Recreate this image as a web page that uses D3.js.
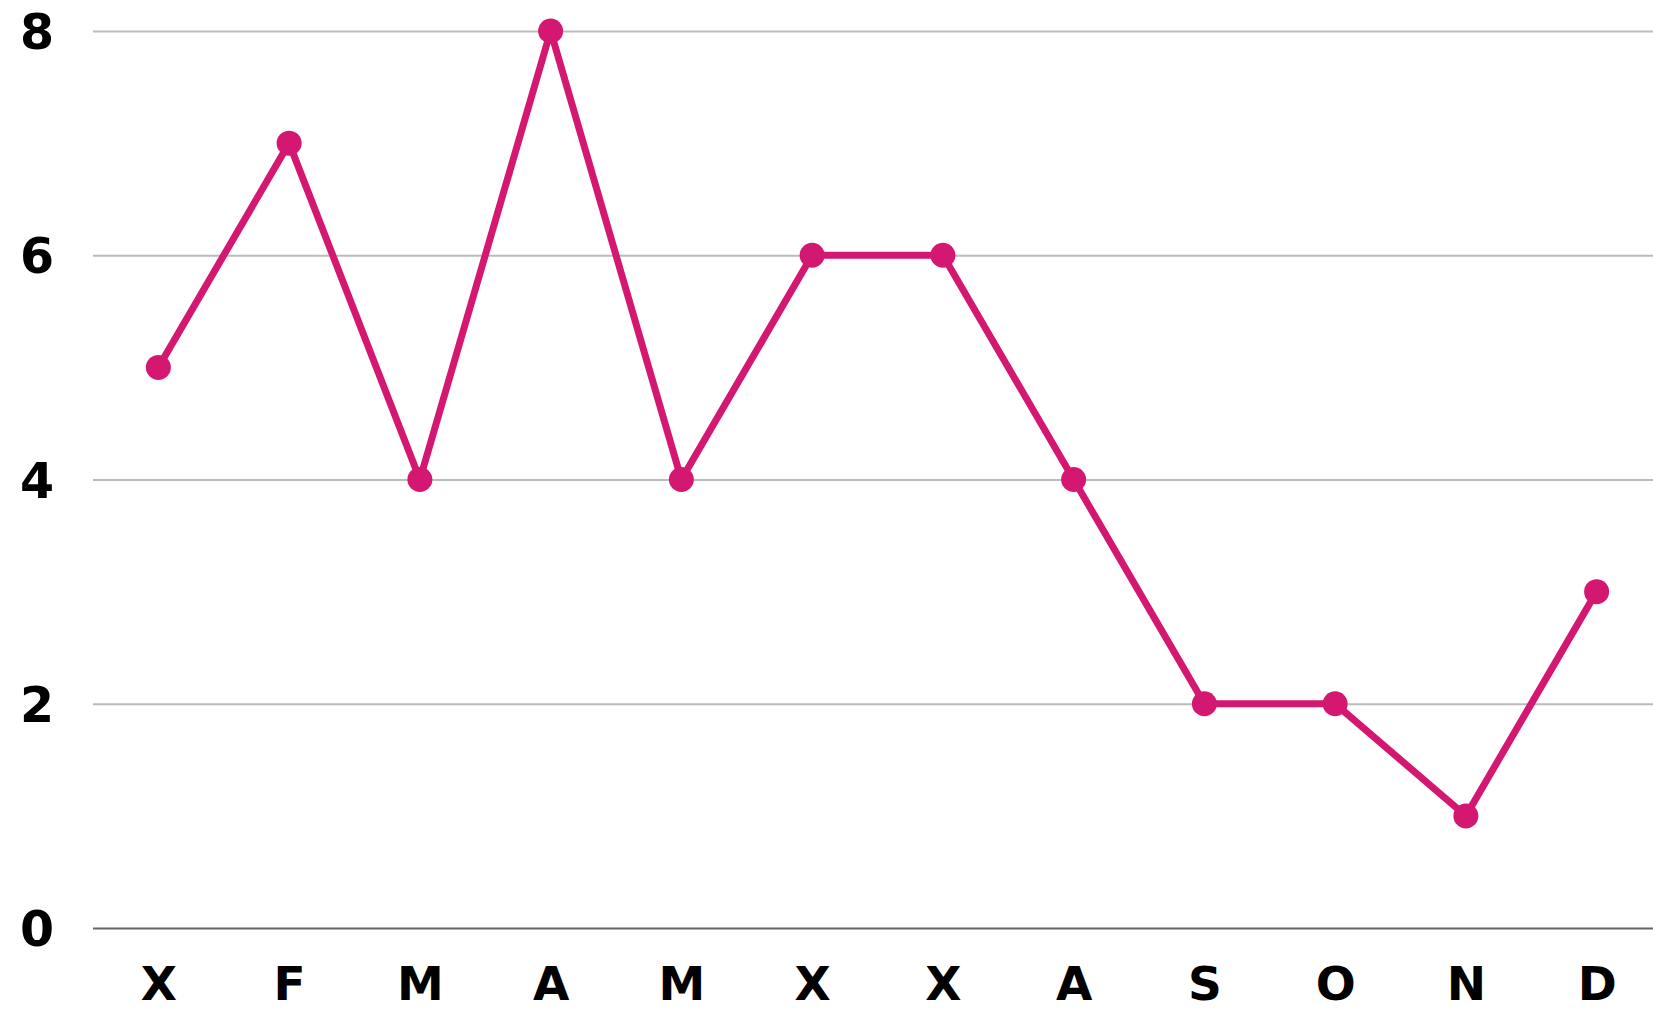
<!DOCTYPE html>
<html>
<head>
<meta charset="utf-8">
<script src="https://cdn.jsdelivr.net/npm/d3@7"></script>
<style>
  body { margin: 0; background: #fff; overflow: hidden; }
  svg { display: block; }
  text { font-family: "DejaVu Sans", sans-serif; font-weight: bold; fill: #000; }
</style>
</head>
<body>
<div id="chart"></div>
<script>
const months = ['X', 'F', 'M', 'A', 'M', 'X', 'X', 'A', 'S', 'O', 'N', 'D'];
const values = [5, 7, 4, 8, 4, 6, 6, 4, 2, 2, 1, 3];
const yTicks = [0, 2, 4, 6, 8];

const width = 1653, height = 1012;
const marginLeft = 93, plotTop = 31, plotBottom = 928;
const color = '#d41872';

const svg = d3.select('#chart').append('svg')
    .attr('width', width).attr('height', height);

const idx = months.map((m, i) => i);
const x = d3.scalePoint().domain(idx).range([marginLeft, 1662]).padding(0.5);
const y = d3.scaleLinear().domain([0, 8]).range([plotBottom, plotTop]);

// grid lines + y labels
const yAxis = svg.append('g')
    .attr('transform', `translate(${marginLeft},0)`)
    .call(d3.axisLeft(y).tickValues(yTicks).tickSize(-(width - marginLeft)).tickPadding(0));
yAxis.select('.domain').remove();
yAxis.selectAll('.tick line')
    .attr('stroke', d => d === 0 ? '#666' : '#bbb')
    .attr('stroke-width', 2);
yAxis.selectAll('.tick text')
    .attr('x', -56).attr('dy', '0.36em')
    .attr('text-anchor', 'middle')
    .style('font-size', '49px');

// x labels
const xAxis = svg.append('g')
    .attr('transform', `translate(0,${plotBottom})`)
    .call(d3.axisBottom(x).tickSize(0).tickFormat(i => months[i]));
xAxis.select('.domain').remove();
xAxis.selectAll('.tick text')
    .attr('y', 72).attr('dy', 0)
    .style('font-size', '47px');

// line
const line = d3.line().x((d, i) => x(i)).y(d => y(d));
svg.append('path')
    .datum(values)
    .attr('d', line)
    .attr('fill', 'none')
    .attr('stroke', color)
    .attr('stroke-width', 7)
    .attr('stroke-linejoin', 'round');

// points
svg.append('g').selectAll('circle')
    .data(values)
    .enter().append('circle')
    .attr('cx', (d, i) => x(i))
    .attr('cy', d => y(d))
    .attr('r', 12.5)
    .attr('fill', color);
</script>
</body>
</html>
